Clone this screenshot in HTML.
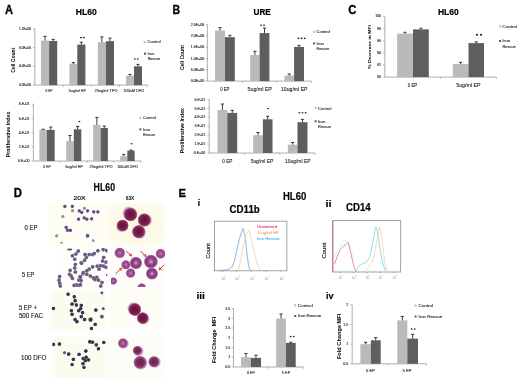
<!DOCTYPE html><html><head><meta charset="utf-8"><style>html,body{margin:0;padding:0;background:#fff;width:520px;height:378px;overflow:hidden}svg{display:block;will-change:transform}text{font-family:"Liberation Sans",sans-serif}</style></head><body>
<svg width="520" height="378" viewBox="0 0 520 378">
<rect width="520" height="378" fill="#fff"/>
<text x="5.0" y="13.6" font-size="12" font-weight="bold" textLength="8.0" lengthAdjust="spacingAndGlyphs" stroke="#000" stroke-width="0.3">A</text>
<text x="172.4" y="14.4" font-size="12" font-weight="bold" textLength="7.6" lengthAdjust="spacingAndGlyphs" stroke="#000" stroke-width="0.3">B</text>
<text x="348.3" y="13.6" font-size="12" font-weight="bold" textLength="8.2" lengthAdjust="spacingAndGlyphs" stroke="#000" stroke-width="0.3">C</text>
<text x="13.7" y="197.0" font-size="12" font-weight="bold" textLength="8.2" lengthAdjust="spacingAndGlyphs" stroke="#000" stroke-width="0.3">D</text>
<text x="178.6" y="197.0" font-size="11.6" font-weight="bold" textLength="7.5" lengthAdjust="spacingAndGlyphs" stroke="#000" stroke-width="0.3">E</text>
<text x="75.8" y="14.8" font-size="9.4" font-weight="bold" textLength="21.0" lengthAdjust="spacingAndGlyphs" stroke="#000" stroke-width="0.2">HL60</text>
<text x="253.6" y="14.8" font-size="9.4" font-weight="bold" textLength="17.2" lengthAdjust="spacingAndGlyphs" stroke="#000" stroke-width="0.2">URE</text>
<text x="437.9" y="14.8" font-size="9.4" font-weight="bold" textLength="20.8" lengthAdjust="spacingAndGlyphs" stroke="#000" stroke-width="0.2">HL60</text>
<text x="93.6" y="191.4" font-size="10" font-weight="bold" textLength="21.4" lengthAdjust="spacingAndGlyphs" stroke="#000" stroke-width="0.15">HL60</text>
<text x="282.9" y="200.4" font-size="10.4" font-weight="bold" textLength="23.4" lengthAdjust="spacingAndGlyphs" stroke="#000" stroke-width="0.15">HL60</text>
<path d="M34.8 28.5V85.1H147.7" stroke="#9a9a9a" stroke-width="0.8" fill="none"/>
<path d="M33.0 28.8H34.8" stroke="#9a9a9a" stroke-width="0.7"/>
<path d="M33.0 47.5H34.8" stroke="#9a9a9a" stroke-width="0.7"/>
<path d="M33.0 66.2H34.8" stroke="#9a9a9a" stroke-width="0.7"/>
<path d="M33.0 85.0H34.8" stroke="#9a9a9a" stroke-width="0.7"/>
<path d="M63.1 85.1V86.89999999999999" stroke="#9a9a9a" stroke-width="0.7"/>
<path d="M91.3 85.1V86.89999999999999" stroke="#9a9a9a" stroke-width="0.7"/>
<path d="M119.4 85.1V86.89999999999999" stroke="#9a9a9a" stroke-width="0.7"/>
<path d="M147.7 85.1V86.89999999999999" stroke="#9a9a9a" stroke-width="0.7"/>
<text x="31.0" y="29.92" font-size="3.2" text-anchor="end" fill="#262626" stroke="#262626" stroke-width="0.12">1.2E+06</text>
<text x="31.0" y="48.62" font-size="3.2" text-anchor="end" fill="#262626" stroke="#262626" stroke-width="0.12">8.0E+05</text>
<text x="31.0" y="67.32000000000001" font-size="3.2" text-anchor="end" fill="#262626" stroke="#262626" stroke-width="0.12">4.0E+05</text>
<text x="31.0" y="86.12" font-size="3.2" text-anchor="end" fill="#262626" stroke="#262626" stroke-width="0.12">0.0E+00</text>
<text x="49.0" y="92.2" font-size="3.6" text-anchor="middle" textLength="7.2" lengthAdjust="spacingAndGlyphs" fill="#262626" stroke="#262626" stroke-width="0.1">0 EP</text>
<text x="77.4" y="92.2" font-size="3.6" text-anchor="middle" textLength="17.2" lengthAdjust="spacingAndGlyphs" fill="#262626" stroke="#262626" stroke-width="0.1">5ug/ml EP</text>
<text x="106.0" y="92.2" font-size="3.6" text-anchor="middle" textLength="23" lengthAdjust="spacingAndGlyphs" fill="#262626" stroke="#262626" stroke-width="0.1">25ng/ml TPO</text>
<text x="133.8" y="92.2" font-size="3.6" text-anchor="middle" textLength="20.8" lengthAdjust="spacingAndGlyphs" fill="#262626" stroke="#262626" stroke-width="0.1">100uM DFO</text>
<rect x="41.0" y="40.6" width="8.10" height="44.50" fill="#bababa"/>
<path d="M45.05 40.6V36.3M43.45 36.3H46.65" stroke="#262626" stroke-width="0.9" fill="none"/>
<rect x="49.1" y="41.0" width="8.10" height="44.10" fill="#5e5e5e"/>
<path d="M53.150000000000006 41.0V39.4M51.55 39.4H54.75" stroke="#262626" stroke-width="0.9" fill="none"/>
<rect x="69.4" y="63.8" width="7.90" height="21.30" fill="#bababa"/>
<path d="M73.35 63.8V62.6M71.75 62.6H74.95" stroke="#262626" stroke-width="0.9" fill="none"/>
<rect x="77.3" y="44.6" width="8.10" height="40.50" fill="#5e5e5e"/>
<path d="M81.35 44.6V42.2M79.75 42.2H82.95" stroke="#262626" stroke-width="0.9" fill="none"/>
<rect x="97.8" y="42.2" width="8.10" height="42.90" fill="#bababa"/>
<path d="M101.85 42.2V36.9M100.25 36.9H103.45" stroke="#262626" stroke-width="0.9" fill="none"/>
<rect x="105.9" y="41.2" width="8.10" height="43.90" fill="#5e5e5e"/>
<path d="M109.95 41.2V38.1M108.35 38.1H111.55" stroke="#262626" stroke-width="0.9" fill="none"/>
<rect x="126.0" y="75.6" width="8.00" height="9.50" fill="#bababa"/>
<path d="M130.0 75.6V74.4M128.40 74.4H131.60" stroke="#262626" stroke-width="0.9" fill="none"/>
<rect x="134.0" y="66.3" width="8.00" height="18.80" fill="#5e5e5e"/>
<path d="M138.0 66.3V64.4M136.40 64.4H139.60" stroke="#262626" stroke-width="0.9" fill="none"/>
<ellipse cx="80.90" cy="37.6" rx="0.95" ry="0.81" fill="#222"/>
<ellipse cx="83.80" cy="37.6" rx="0.95" ry="0.81" fill="#222"/>
<ellipse cx="134.85" cy="59.0" rx="0.95" ry="0.81" fill="#222"/>
<ellipse cx="137.75" cy="59.0" rx="0.95" ry="0.81" fill="#222"/>
<rect x="143.60" y="41.10" width="2" height="2" fill="#bababa"/>
<text x="147.6" y="43.4" font-size="3.8" textLength="13.1" lengthAdjust="spacingAndGlyphs" fill="#262626" stroke="#262626" stroke-width="0.1">Control</text>
<rect x="144.00" y="52.70" width="2" height="2" fill="#5e5e5e"/>
<text x="147.6" y="54.9" font-size="3.8" textLength="6.7" lengthAdjust="spacingAndGlyphs" fill="#262626" stroke="#262626" stroke-width="0.1">Iron</text>
<text x="147.7" y="60.1" font-size="3.8" textLength="12.3" lengthAdjust="spacingAndGlyphs" fill="#262626" stroke="#262626" stroke-width="0.1">Rescue</text>
<text x="15.5" y="60.2" font-size="4.8" font-weight="bold" text-anchor="middle" textLength="25.0" lengthAdjust="spacingAndGlyphs" transform="rotate(-90 15.5 60.2)">Cell Count</text>
<path d="M33.4 104.2V161.0H141.0" stroke="#9a9a9a" stroke-width="0.8" fill="none"/>
<path d="M31.599999999999998 104.2H33.4" stroke="#9a9a9a" stroke-width="0.7"/>
<path d="M31.599999999999998 118.4H33.4" stroke="#9a9a9a" stroke-width="0.7"/>
<path d="M31.599999999999998 132.6H33.4" stroke="#9a9a9a" stroke-width="0.7"/>
<path d="M31.599999999999998 146.6H33.4" stroke="#9a9a9a" stroke-width="0.7"/>
<path d="M31.599999999999998 160.9H33.4" stroke="#9a9a9a" stroke-width="0.7"/>
<path d="M60.3 161.0V162.8" stroke="#9a9a9a" stroke-width="0.7"/>
<path d="M87.1 161.0V162.8" stroke="#9a9a9a" stroke-width="0.7"/>
<path d="M113.8 161.0V162.8" stroke="#9a9a9a" stroke-width="0.7"/>
<path d="M141.0 161.0V162.8" stroke="#9a9a9a" stroke-width="0.7"/>
<text x="29.4" y="105.46000000000001" font-size="3.6" text-anchor="end" fill="#262626" stroke="#262626" stroke-width="0.12">8.E-01</text>
<text x="29.4" y="119.66000000000001" font-size="3.6" text-anchor="end" fill="#262626" stroke="#262626" stroke-width="0.12">6.E-01</text>
<text x="29.4" y="133.85999999999999" font-size="3.6" text-anchor="end" fill="#262626" stroke="#262626" stroke-width="0.12">4.E-01</text>
<text x="29.4" y="147.85999999999999" font-size="3.6" text-anchor="end" fill="#262626" stroke="#262626" stroke-width="0.12">2.E-01</text>
<text x="29.4" y="162.16" font-size="3.6" text-anchor="end" fill="#262626" stroke="#262626" stroke-width="0.12">0.E+00</text>
<text x="47.0" y="168.1" font-size="3.6" text-anchor="middle" textLength="7.3" lengthAdjust="spacingAndGlyphs" fill="#262626" stroke="#262626" stroke-width="0.1">0 EP</text>
<text x="74.0" y="168.1" font-size="3.6" text-anchor="middle" textLength="17.7" lengthAdjust="spacingAndGlyphs" fill="#262626" stroke="#262626" stroke-width="0.1">5ug/ml EP</text>
<text x="101.0" y="168.1" font-size="3.6" text-anchor="middle" textLength="23" lengthAdjust="spacingAndGlyphs" fill="#262626" stroke="#262626" stroke-width="0.1">25ng/ml TPO</text>
<text x="127.5" y="168.1" font-size="3.6" text-anchor="middle" textLength="20.7" lengthAdjust="spacingAndGlyphs" fill="#262626" stroke="#262626" stroke-width="0.1">100uM DFO</text>
<rect x="39.4" y="129.9" width="7.50" height="31.10" fill="#bababa"/>
<path d="M43.15 129.9V129.3M41.55 129.3H44.75" stroke="#262626" stroke-width="0.9" fill="none"/>
<rect x="46.9" y="129.9" width="7.80" height="31.10" fill="#5e5e5e"/>
<path d="M50.8 129.9V127.1M49.20 127.1H52.40" stroke="#262626" stroke-width="0.9" fill="none"/>
<rect x="66.2" y="141.1" width="7.60" height="19.90" fill="#bababa"/>
<path d="M70.0 141.1V135.5M68.40 135.5H71.60" stroke="#262626" stroke-width="0.9" fill="none"/>
<rect x="73.8" y="129.3" width="7.50" height="31.70" fill="#5e5e5e"/>
<path d="M77.55 129.3V126.5M75.95 126.5H79.15" stroke="#262626" stroke-width="0.9" fill="none"/>
<rect x="93.1" y="124.9" width="7.50" height="36.10" fill="#bababa"/>
<path d="M96.85 124.9V117.4M95.25 117.4H98.45" stroke="#262626" stroke-width="0.9" fill="none"/>
<rect x="100.6" y="128.0" width="7.30" height="33.00" fill="#5e5e5e"/>
<path d="M104.25 128.0V126.1M102.65 126.1H105.85" stroke="#262626" stroke-width="0.9" fill="none"/>
<rect x="120.2" y="156.2" width="7.10" height="4.80" fill="#bababa"/>
<path d="M123.75 156.2V154.4M122.15 154.4H125.35" stroke="#262626" stroke-width="0.9" fill="none"/>
<rect x="127.3" y="150.6" width="7.40" height="10.40" fill="#5e5e5e"/>
<path d="M131.0 150.6V150.0M129.40 150.0H132.60" stroke="#262626" stroke-width="0.9" fill="none"/>
<ellipse cx="79.40" cy="121.5" rx="0.95" ry="0.81" fill="#222"/>
<ellipse cx="131.50" cy="143.7" rx="0.95" ry="0.81" fill="#222"/>
<rect x="139.40" y="116.90" width="2" height="2" fill="#bababa"/>
<text x="143.1" y="119.2" font-size="3.5" textLength="12.7" lengthAdjust="spacingAndGlyphs" fill="#262626" stroke="#262626" stroke-width="0.1">Control</text>
<rect x="139.40" y="128.30" width="2" height="2" fill="#5e5e5e"/>
<text x="143.1" y="130.6" font-size="3.5" textLength="7.0" lengthAdjust="spacingAndGlyphs" fill="#262626" stroke="#262626" stroke-width="0.1">Iron</text>
<text x="143.0" y="135.8" font-size="3.5" textLength="12.0" lengthAdjust="spacingAndGlyphs" fill="#262626" stroke="#262626" stroke-width="0.1">Rescue</text>
<text x="9.9" y="134.4" font-size="4.7" font-weight="bold" text-anchor="middle" textLength="45.6" lengthAdjust="spacingAndGlyphs" transform="rotate(-90 9.9 134.4)">Proliferative Index</text>
<path d="M207.4 24.5V81.1H311.5" stroke="#9a9a9a" stroke-width="0.8" fill="none"/>
<path d="M205.6 24.6H207.4" stroke="#9a9a9a" stroke-width="0.7"/>
<path d="M205.6 35.9H207.4" stroke="#9a9a9a" stroke-width="0.7"/>
<path d="M205.6 47.2H207.4" stroke="#9a9a9a" stroke-width="0.7"/>
<path d="M205.6 58.5H207.4" stroke="#9a9a9a" stroke-width="0.7"/>
<path d="M205.6 69.8H207.4" stroke="#9a9a9a" stroke-width="0.7"/>
<path d="M205.6 81.1H207.4" stroke="#9a9a9a" stroke-width="0.7"/>
<path d="M242.1 81.1V82.89999999999999" stroke="#9a9a9a" stroke-width="0.7"/>
<path d="M276.8 81.1V82.89999999999999" stroke="#9a9a9a" stroke-width="0.7"/>
<path d="M311.5 81.1V82.89999999999999" stroke="#9a9a9a" stroke-width="0.7"/>
<text x="204.2" y="25.860000000000003" font-size="3.6" text-anchor="end" fill="#262626" stroke="#262626" stroke-width="0.12">2.5E+06</text>
<text x="204.2" y="37.16" font-size="3.6" text-anchor="end" fill="#262626" stroke="#262626" stroke-width="0.12">2.0E+06</text>
<text x="204.2" y="48.46" font-size="3.6" text-anchor="end" fill="#262626" stroke="#262626" stroke-width="0.12">1.5E+06</text>
<text x="204.2" y="59.76" font-size="3.6" text-anchor="end" fill="#262626" stroke="#262626" stroke-width="0.12">1.0E+06</text>
<text x="204.2" y="71.06" font-size="3.6" text-anchor="end" fill="#262626" stroke="#262626" stroke-width="0.12">5.0E+05</text>
<text x="204.2" y="82.36" font-size="3.6" text-anchor="end" fill="#262626" stroke="#262626" stroke-width="0.12">0.0E+00</text>
<text x="224.8" y="90.5" font-size="5.0" text-anchor="middle" textLength="9.1" lengthAdjust="spacingAndGlyphs" fill="#262626" stroke="#262626" stroke-width="0.1">0 EP</text>
<text x="259.7" y="90.5" font-size="5.0" text-anchor="middle" textLength="24.4" lengthAdjust="spacingAndGlyphs" fill="#262626" stroke="#262626" stroke-width="0.1">5ug/ml EP</text>
<text x="294.25" y="90.5" font-size="5.0" text-anchor="middle" textLength="26.5" lengthAdjust="spacingAndGlyphs" fill="#262626" stroke="#262626" stroke-width="0.1">10ug/ml EP</text>
<rect x="215.0" y="30.6" width="10.00" height="50.50" fill="#bababa"/>
<path d="M220.0 30.6V27.6M218.40 27.6H221.60" stroke="#262626" stroke-width="0.9" fill="none"/>
<rect x="225.0" y="37.2" width="9.80" height="43.90" fill="#5e5e5e"/>
<path d="M229.9 37.2V35.3M228.30 35.3H231.50" stroke="#262626" stroke-width="0.9" fill="none"/>
<rect x="250.2" y="55.0" width="9.40" height="26.10" fill="#bababa"/>
<path d="M254.9 55.0V51.3M253.30 51.3H256.50" stroke="#262626" stroke-width="0.9" fill="none"/>
<rect x="259.6" y="33.1" width="9.80" height="48.00" fill="#5e5e5e"/>
<path d="M264.5 33.1V28.1M262.90 28.1H266.10" stroke="#262626" stroke-width="0.9" fill="none"/>
<rect x="284.4" y="75.6" width="9.70" height="5.50" fill="#bababa"/>
<path d="M289.25 75.6V74.0M287.65 74.0H290.85" stroke="#262626" stroke-width="0.9" fill="none"/>
<rect x="294.1" y="46.9" width="9.90" height="34.20" fill="#5e5e5e"/>
<path d="M299.05 46.9V45.4M297.45 45.4H300.65" stroke="#262626" stroke-width="0.9" fill="none"/>
<ellipse cx="260.95" cy="25.3" rx="0.95" ry="0.81" fill="#222"/>
<ellipse cx="264.05" cy="25.3" rx="0.95" ry="0.81" fill="#222"/>
<ellipse cx="298.40" cy="38.4" rx="0.95" ry="0.81" fill="#222"/>
<ellipse cx="301.50" cy="38.4" rx="0.95" ry="0.81" fill="#222"/>
<ellipse cx="304.60" cy="38.4" rx="0.95" ry="0.81" fill="#222"/>
<rect x="313.00" y="30.90" width="2" height="2" fill="#bababa"/>
<text x="316.6" y="33.1" font-size="3.7" textLength="13.2" lengthAdjust="spacingAndGlyphs" fill="#262626" stroke="#262626" stroke-width="0.1">Control</text>
<rect x="313.00" y="42.40" width="2" height="2" fill="#5e5e5e"/>
<text x="316.6" y="44.6" font-size="3.7" textLength="7.3" lengthAdjust="spacingAndGlyphs" fill="#262626" stroke="#262626" stroke-width="0.1">Iron</text>
<text x="316.6" y="49.9" font-size="3.7" textLength="12.4" lengthAdjust="spacingAndGlyphs" fill="#262626" stroke="#262626" stroke-width="0.1">Rescue</text>
<text x="183.7" y="57.6" font-size="4.8" font-weight="bold" text-anchor="middle" textLength="25.0" lengthAdjust="spacingAndGlyphs" transform="rotate(-90 183.7 57.6)">Cell Count</text>
<path d="M209.2 99.3V153.0H315.1" stroke="#9a9a9a" stroke-width="0.8" fill="none"/>
<path d="M207.39999999999998 99.3H209.2" stroke="#9a9a9a" stroke-width="0.7"/>
<path d="M207.39999999999998 108.3H209.2" stroke="#9a9a9a" stroke-width="0.7"/>
<path d="M207.39999999999998 117.2H209.2" stroke="#9a9a9a" stroke-width="0.7"/>
<path d="M207.39999999999998 126.2H209.2" stroke="#9a9a9a" stroke-width="0.7"/>
<path d="M207.39999999999998 135.1H209.2" stroke="#9a9a9a" stroke-width="0.7"/>
<path d="M207.39999999999998 144.1H209.2" stroke="#9a9a9a" stroke-width="0.7"/>
<path d="M207.39999999999998 153.0H209.2" stroke="#9a9a9a" stroke-width="0.7"/>
<path d="M244.5 153.0V154.8" stroke="#9a9a9a" stroke-width="0.7"/>
<path d="M279.8 153.0V154.8" stroke="#9a9a9a" stroke-width="0.7"/>
<path d="M315.1 153.0V154.8" stroke="#9a9a9a" stroke-width="0.7"/>
<text x="205.2" y="100.56" font-size="3.6" text-anchor="end" fill="#262626" stroke="#262626" stroke-width="0.12">6.E-01</text>
<text x="205.2" y="109.56" font-size="3.6" text-anchor="end" fill="#262626" stroke="#262626" stroke-width="0.12">5.E-01</text>
<text x="205.2" y="118.46000000000001" font-size="3.6" text-anchor="end" fill="#262626" stroke="#262626" stroke-width="0.12">4.E-01</text>
<text x="205.2" y="127.46000000000001" font-size="3.6" text-anchor="end" fill="#262626" stroke="#262626" stroke-width="0.12">3.E-01</text>
<text x="205.2" y="136.35999999999999" font-size="3.6" text-anchor="end" fill="#262626" stroke="#262626" stroke-width="0.12">2.E-01</text>
<text x="205.2" y="145.35999999999999" font-size="3.6" text-anchor="end" fill="#262626" stroke="#262626" stroke-width="0.12">1.E-01</text>
<text x="205.2" y="154.26" font-size="3.6" text-anchor="end" fill="#262626" stroke="#262626" stroke-width="0.12">0.E+00</text>
<text x="227.4" y="162.6" font-size="5.0" text-anchor="middle" textLength="10.2" lengthAdjust="spacingAndGlyphs" fill="#262626" stroke="#262626" stroke-width="0.1">0 EP</text>
<text x="262.0" y="162.6" font-size="5.0" text-anchor="middle" textLength="22.7" lengthAdjust="spacingAndGlyphs" fill="#262626" stroke="#262626" stroke-width="0.1">5ug/ml EP</text>
<text x="297.8" y="162.6" font-size="5.0" text-anchor="middle" textLength="25.7" lengthAdjust="spacingAndGlyphs" fill="#262626" stroke="#262626" stroke-width="0.1">10ug/ml EP</text>
<rect x="217.5" y="110.0" width="9.80" height="43.00" fill="#bababa"/>
<path d="M222.4 110.0V104.0M220.80 104.0H224.00" stroke="#262626" stroke-width="0.9" fill="none"/>
<rect x="227.3" y="112.9" width="9.90" height="40.10" fill="#5e5e5e"/>
<path d="M232.25 112.9V110.3M230.65 110.3H233.85" stroke="#262626" stroke-width="0.9" fill="none"/>
<rect x="253.1" y="135.2" width="9.80" height="17.80" fill="#bababa"/>
<path d="M258.0 135.2V132.5M256.40 132.5H259.60" stroke="#262626" stroke-width="0.9" fill="none"/>
<rect x="262.9" y="119.3" width="9.60" height="33.70" fill="#5e5e5e"/>
<path d="M267.7 119.3V116.3M266.10 116.3H269.30" stroke="#262626" stroke-width="0.9" fill="none"/>
<rect x="287.8" y="144.7" width="9.70" height="8.30" fill="#bababa"/>
<path d="M292.65 144.7V142.5M291.05 142.5H294.25" stroke="#262626" stroke-width="0.9" fill="none"/>
<rect x="297.5" y="122.2" width="10.00" height="30.80" fill="#5e5e5e"/>
<path d="M302.5 122.2V119.4M300.90 119.4H304.10" stroke="#262626" stroke-width="0.9" fill="none"/>
<ellipse cx="267.90" cy="108.5" rx="0.95" ry="0.81" fill="#222"/>
<ellipse cx="299.40" cy="112.8" rx="0.95" ry="0.81" fill="#222"/>
<ellipse cx="302.50" cy="112.8" rx="0.95" ry="0.81" fill="#222"/>
<ellipse cx="305.60" cy="112.8" rx="0.95" ry="0.81" fill="#222"/>
<rect x="314.60" y="106.90" width="2" height="2" fill="#bababa"/>
<text x="317.8" y="109.5" font-size="3.8" textLength="13.6" lengthAdjust="spacingAndGlyphs" fill="#262626" stroke="#262626" stroke-width="0.1">Control</text>
<rect x="314.60" y="120.30" width="2" height="2" fill="#5e5e5e"/>
<text x="317.8" y="122.7" font-size="3.8" textLength="7.7" lengthAdjust="spacingAndGlyphs" fill="#262626" stroke="#262626" stroke-width="0.1">Iron</text>
<text x="317.9" y="128.0" font-size="3.8" textLength="12.9" lengthAdjust="spacingAndGlyphs" fill="#262626" stroke="#262626" stroke-width="0.1">Rescue</text>
<text x="183.6" y="130.6" font-size="4.7" font-weight="bold" text-anchor="middle" textLength="45.2" lengthAdjust="spacingAndGlyphs" transform="rotate(-90 183.6 130.6)">Proliferative Index</text>
<path d="M384.8 16.3V77.1H496.3" stroke="#9a9a9a" stroke-width="0.8" fill="none"/>
<path d="M383.0 16.3H384.8" stroke="#9a9a9a" stroke-width="0.7"/>
<path d="M383.0 28.5H384.8" stroke="#9a9a9a" stroke-width="0.7"/>
<path d="M383.0 40.6H384.8" stroke="#9a9a9a" stroke-width="0.7"/>
<path d="M383.0 52.7H384.8" stroke="#9a9a9a" stroke-width="0.7"/>
<path d="M383.0 64.9H384.8" stroke="#9a9a9a" stroke-width="0.7"/>
<path d="M383.0 77.0H384.8" stroke="#9a9a9a" stroke-width="0.7"/>
<path d="M440.6 77.1V78.89999999999999" stroke="#9a9a9a" stroke-width="0.7"/>
<path d="M496.3 77.1V78.89999999999999" stroke="#9a9a9a" stroke-width="0.7"/>
<text x="380.8" y="17.490000000000002" font-size="3.4" text-anchor="end" fill="#262626" stroke="#262626" stroke-width="0.12">100</text>
<text x="380.8" y="29.69" font-size="3.4" text-anchor="end" fill="#262626" stroke="#262626" stroke-width="0.12">98</text>
<text x="380.8" y="41.79" font-size="3.4" text-anchor="end" fill="#262626" stroke="#262626" stroke-width="0.12">96</text>
<text x="380.8" y="53.89" font-size="3.4" text-anchor="end" fill="#262626" stroke="#262626" stroke-width="0.12">94</text>
<text x="380.8" y="66.09" font-size="3.4" text-anchor="end" fill="#262626" stroke="#262626" stroke-width="0.12">92</text>
<text x="380.8" y="78.19" font-size="3.4" text-anchor="end" fill="#262626" stroke="#262626" stroke-width="0.12">90</text>
<text x="412.5" y="86.8" font-size="5.0" text-anchor="middle" textLength="9.5" lengthAdjust="spacingAndGlyphs" fill="#262626" stroke="#262626" stroke-width="0.1">0 EP</text>
<text x="468.4" y="86.8" font-size="5.0" text-anchor="middle" textLength="24.3" lengthAdjust="spacingAndGlyphs" fill="#262626" stroke="#262626" stroke-width="0.1">5ug/ml EP</text>
<rect x="397.1" y="33.6" width="15.90" height="43.50" fill="#bababa"/>
<path d="M405.05 33.6V32.3M403.45 32.3H406.65" stroke="#262626" stroke-width="0.9" fill="none"/>
<rect x="413.0" y="29.4" width="15.80" height="47.70" fill="#5e5e5e"/>
<path d="M420.9 29.4V28.2M419.30 28.2H422.50" stroke="#262626" stroke-width="0.9" fill="none"/>
<rect x="452.8" y="64.1" width="15.70" height="13.00" fill="#bababa"/>
<path d="M460.65 64.1V62.3M459.05 62.3H462.25" stroke="#262626" stroke-width="0.9" fill="none"/>
<rect x="468.5" y="43.1" width="15.50" height="34.00" fill="#5e5e5e"/>
<path d="M476.25 43.1V41.9M474.65 41.9H477.85" stroke="#262626" stroke-width="0.9" fill="none"/>
<ellipse cx="476.95" cy="34.8" rx="1.15" ry="0.98" fill="#222"/>
<ellipse cx="481.05" cy="34.8" rx="1.15" ry="0.98" fill="#222"/>
<rect x="499.00" y="25.50" width="2" height="2" fill="#bababa"/>
<text x="502.3" y="28.0" font-size="4.0" textLength="14.8" lengthAdjust="spacingAndGlyphs" fill="#262626" stroke="#262626" stroke-width="0.1">Control</text>
<rect x="499.00" y="40.00" width="2" height="2" fill="#5e5e5e"/>
<text x="502.3" y="42.4" font-size="4.0" textLength="8.0" lengthAdjust="spacingAndGlyphs" fill="#262626" stroke="#262626" stroke-width="0.1">Iron</text>
<text x="502.5" y="47.8" font-size="4.0" textLength="13.3" lengthAdjust="spacingAndGlyphs" fill="#262626" stroke="#262626" stroke-width="0.1">Rescue</text>
<text x="371.4" y="47.0" font-size="4.4" font-weight="bold" text-anchor="middle" textLength="43.7" lengthAdjust="spacingAndGlyphs" transform="rotate(-90 371.4 47.0)">% Decrease in MFI</text>
<path d="M233.5 308.5V367.0H303.5" stroke="#9a9a9a" stroke-width="0.8" fill="none"/>
<path d="M231.7 308.5H233.5" stroke="#9a9a9a" stroke-width="0.7"/>
<path d="M231.7 318.3H233.5" stroke="#9a9a9a" stroke-width="0.7"/>
<path d="M231.7 328.0H233.5" stroke="#9a9a9a" stroke-width="0.7"/>
<path d="M231.7 337.7H233.5" stroke="#9a9a9a" stroke-width="0.7"/>
<path d="M231.7 347.5H233.5" stroke="#9a9a9a" stroke-width="0.7"/>
<path d="M231.7 357.2H233.5" stroke="#9a9a9a" stroke-width="0.7"/>
<path d="M231.7 367.0H233.5" stroke="#9a9a9a" stroke-width="0.7"/>
<path d="M268.5 367.0V368.8" stroke="#9a9a9a" stroke-width="0.7"/>
<path d="M303.5 367.0V368.8" stroke="#9a9a9a" stroke-width="0.7"/>
<text x="230.2" y="309.76" font-size="3.6" text-anchor="end" fill="#262626" stroke="#262626" stroke-width="0.12">3.5</text>
<text x="230.2" y="319.56" font-size="3.6" text-anchor="end" fill="#262626" stroke="#262626" stroke-width="0.12">3</text>
<text x="230.2" y="329.26" font-size="3.6" text-anchor="end" fill="#262626" stroke="#262626" stroke-width="0.12">2.5</text>
<text x="230.2" y="338.96" font-size="3.6" text-anchor="end" fill="#262626" stroke="#262626" stroke-width="0.12">2</text>
<text x="230.2" y="348.76" font-size="3.6" text-anchor="end" fill="#262626" stroke="#262626" stroke-width="0.12">1.5</text>
<text x="230.2" y="358.46" font-size="3.6" text-anchor="end" fill="#262626" stroke="#262626" stroke-width="0.12">1</text>
<text x="230.2" y="368.26" font-size="3.6" text-anchor="end" fill="#262626" stroke="#262626" stroke-width="0.12">0.5</text>
<text x="251.0" y="374.4" font-size="3.8" text-anchor="middle" textLength="8.2" lengthAdjust="spacingAndGlyphs" fill="#262626" stroke="#262626" stroke-width="0.1">0 EP</text>
<text x="286.0" y="374.4" font-size="3.8" text-anchor="middle" textLength="8.5" lengthAdjust="spacingAndGlyphs" fill="#262626" stroke="#262626" stroke-width="0.1">5 EP</text>
<rect x="241.0" y="357.3" width="9.90" height="9.70" fill="#bababa"/>
<path d="M245.95 357.3V353.5M244.35 353.5H247.55" stroke="#262626" stroke-width="0.9" fill="none"/>
<rect x="250.9" y="357.9" width="10.10" height="9.10" fill="#5e5e5e"/>
<path d="M255.95 357.9V355.2M254.35 355.2H257.55" stroke="#262626" stroke-width="0.9" fill="none"/>
<rect x="276.2" y="318.6" width="9.70" height="48.40" fill="#bababa"/>
<path d="M281.04999999999995 318.6V314.0M279.45 314.0H282.65" stroke="#262626" stroke-width="0.9" fill="none"/>
<rect x="285.9" y="342.9" width="9.80" height="24.10" fill="#5e5e5e"/>
<path d="M290.79999999999995 342.9V342.3M289.20 342.3H292.40" stroke="#262626" stroke-width="0.9" fill="none"/>
<ellipse cx="290.65" cy="336.5" rx="0.95" ry="0.81" fill="#222"/>
<ellipse cx="293.75" cy="336.5" rx="0.95" ry="0.81" fill="#222"/>
<rect x="294.20" y="304.20" width="2" height="2" fill="#bababa"/>
<text x="297.8" y="306.5" font-size="3.7" textLength="14.9" lengthAdjust="spacingAndGlyphs" fill="#262626" stroke="#262626" stroke-width="0.1">Control</text>
<rect x="294.20" y="315.00" width="2" height="2" fill="#5e5e5e"/>
<text x="297.8" y="317.3" font-size="3.7" textLength="23.5" lengthAdjust="spacingAndGlyphs" fill="#262626" stroke="#262626" stroke-width="0.1">Iron Rescue</text>
<text x="216.2" y="339.9" font-size="5.0" font-weight="bold" text-anchor="middle" textLength="46.3" lengthAdjust="spacingAndGlyphs" transform="rotate(-90 216.2 339.9)">Fold Change&#160;&#160;MFI</text>
<path d="M352.2 304.8V363.8H426.5" stroke="#9a9a9a" stroke-width="0.8" fill="none"/>
<path d="M350.4 304.8H352.2" stroke="#9a9a9a" stroke-width="0.7"/>
<path d="M350.4 324.5H352.2" stroke="#9a9a9a" stroke-width="0.7"/>
<path d="M350.4 344.2H352.2" stroke="#9a9a9a" stroke-width="0.7"/>
<path d="M350.4 363.8H352.2" stroke="#9a9a9a" stroke-width="0.7"/>
<path d="M388.1 363.8V365.6" stroke="#9a9a9a" stroke-width="0.7"/>
<path d="M426.5 363.8V365.6" stroke="#9a9a9a" stroke-width="0.7"/>
<text x="348.3" y="306.06" font-size="3.6" text-anchor="end" fill="#262626" stroke="#262626" stroke-width="0.12">2</text>
<text x="348.3" y="325.76" font-size="3.6" text-anchor="end" fill="#262626" stroke="#262626" stroke-width="0.12">1.5</text>
<text x="348.3" y="345.46" font-size="3.6" text-anchor="end" fill="#262626" stroke="#262626" stroke-width="0.12">1</text>
<text x="348.3" y="365.06" font-size="3.6" text-anchor="end" fill="#262626" stroke="#262626" stroke-width="0.12">0.5</text>
<text x="370.5" y="371.9" font-size="3.8" text-anchor="middle" textLength="9.0" lengthAdjust="spacingAndGlyphs" fill="#262626" stroke="#262626" stroke-width="0.1">0 EP</text>
<text x="407.0" y="371.9" font-size="3.8" text-anchor="middle" textLength="9.2" lengthAdjust="spacingAndGlyphs" fill="#262626" stroke="#262626" stroke-width="0.1">5 EP</text>
<rect x="360.4" y="344.2" width="10.40" height="19.60" fill="#bababa"/>
<path d="M365.6 344.2V342.3M364.00 342.3H367.20" stroke="#262626" stroke-width="0.9" fill="none"/>
<rect x="370.8" y="340.3" width="9.90" height="23.50" fill="#5e5e5e"/>
<path d="M375.75 340.3V337.6M374.15 337.6H377.35" stroke="#262626" stroke-width="0.9" fill="none"/>
<rect x="397.3" y="320.4" width="10.00" height="43.40" fill="#bababa"/>
<path d="M402.3 320.4V316.4M400.70 316.4H403.90" stroke="#262626" stroke-width="0.9" fill="none"/>
<rect x="407.3" y="338.6" width="10.70" height="25.20" fill="#5e5e5e"/>
<path d="M412.65 338.6V334.3M411.05 334.3H414.25" stroke="#262626" stroke-width="0.9" fill="none"/>
<ellipse cx="411.65" cy="329.0" rx="0.95" ry="0.81" fill="#222"/>
<ellipse cx="414.75" cy="329.0" rx="0.95" ry="0.81" fill="#222"/>
<rect x="414.60" y="304.60" width="2" height="2" fill="#bababa"/>
<text x="418.5" y="306.9" font-size="3.7" textLength="14.6" lengthAdjust="spacingAndGlyphs" fill="#262626" stroke="#262626" stroke-width="0.1">Control</text>
<rect x="414.60" y="315.50" width="2" height="2" fill="#5e5e5e"/>
<text x="418.5" y="317.8" font-size="3.7" textLength="23.6" lengthAdjust="spacingAndGlyphs" fill="#262626" stroke="#262626" stroke-width="0.1">Iron Rescue</text>
<text x="340.7" y="336.4" font-size="5.0" font-weight="bold" text-anchor="middle" textLength="45.4" lengthAdjust="spacingAndGlyphs" transform="rotate(-90 340.7 336.4)">Fold Change MFI</text>
<text x="197.8" y="206.0" font-size="9.6" font-weight="bold" textLength="2.4" lengthAdjust="spacingAndGlyphs" stroke="#000" stroke-width="0.15">i</text>
<text x="325.5" y="207.2" font-size="9.6" font-weight="bold" textLength="6.2" lengthAdjust="spacingAndGlyphs" stroke="#000" stroke-width="0.15">ii</text>
<text x="196.4" y="298.9" font-size="9.6" font-weight="bold" textLength="8.6" lengthAdjust="spacingAndGlyphs" stroke="#000" stroke-width="0.15">iii</text>
<text x="325.9" y="298.9" font-size="9.6" font-weight="bold" textLength="7.6" lengthAdjust="spacingAndGlyphs" stroke="#000" stroke-width="0.15">iv</text>
<text x="229.6" y="213.2" font-size="10.4" font-weight="bold" textLength="30.2" lengthAdjust="spacingAndGlyphs" stroke="#000" stroke-width="0.2">CD11b</text>
<text x="346.0" y="211.4" font-size="10.4" font-weight="bold" textLength="24.6" lengthAdjust="spacingAndGlyphs" stroke="#000" stroke-width="0.2">CD14</text>
<rect x="214.4" y="221.2" width="72.5" height="49.6" fill="none" stroke="#8a8a8a" stroke-width="0.8"/>
<rect x="332.8" y="220.6" width="67.9" height="51.4" fill="none" stroke="#8a8a8a" stroke-width="0.8"/>
<path d="M332.8 221V272" stroke="#d06070" stroke-width="0.9"/>
<text x="209.9" y="250.8" font-size="5.6" text-anchor="middle" textLength="15.6" lengthAdjust="spacingAndGlyphs" fill="#222" transform="rotate(-90 209.9 250.8)" stroke="#222" stroke-width="0.15">Count</text>
<text x="325.9" y="250.6" font-size="5.6" text-anchor="middle" textLength="16.0" lengthAdjust="spacingAndGlyphs" fill="#222" transform="rotate(-90 325.9 250.6)" stroke="#222" stroke-width="0.15">Count</text>
<text x="221.4" y="279.8" font-size="3.2" fill="#8a8a8a">10<tspan dy="-2.6" font-size="2.4">1</tspan></text>
<text x="234.9" y="279.8" font-size="3.2" fill="#8a8a8a">10<tspan dy="-2.6" font-size="2.4">2</tspan></text>
<text x="249.9" y="279.8" font-size="3.2" fill="#8a8a8a">10<tspan dy="-2.6" font-size="2.4">3</tspan></text>
<text x="264.7" y="279.8" font-size="3.2" fill="#8a8a8a">10<tspan dy="-2.6" font-size="2.4">4</tspan></text>
<text x="279.2" y="279.8" font-size="3.2" fill="#8a8a8a">10<tspan dy="-2.6" font-size="2.4">5</tspan></text>
<text x="338.59999999999997" y="278.6" font-size="3.0" fill="#8a8a8a">10<tspan dy="-2.2" font-size="2.4">1</tspan></text>
<text x="352.09999999999997" y="278.6" font-size="3.0" fill="#8a8a8a">10<tspan dy="-2.2" font-size="2.4">2</tspan></text>
<text x="365.4" y="278.6" font-size="3.0" fill="#8a8a8a">10<tspan dy="-2.2" font-size="2.4">3</tspan></text>
<text x="378.79999999999995" y="278.6" font-size="3.0" fill="#8a8a8a">10<tspan dy="-2.2" font-size="2.4">4</tspan></text>
<text x="392.29999999999995" y="278.6" font-size="3.0" fill="#8a8a8a">10<tspan dy="-2.2" font-size="2.4">5</tspan></text>
<path d="M223 270.8v1.3" stroke="#8a8a8a" stroke-width="0.6"/>
<path d="M236.5 270.8v1.3" stroke="#8a8a8a" stroke-width="0.6"/>
<path d="M251.5 270.8v1.3" stroke="#8a8a8a" stroke-width="0.6"/>
<path d="M266.3 270.8v1.3" stroke="#8a8a8a" stroke-width="0.6"/>
<path d="M280.8 270.8v1.3" stroke="#8a8a8a" stroke-width="0.6"/>
<path d="M340.2 272v1.3" stroke="#8a8a8a" stroke-width="0.6"/>
<path d="M353.7 272v1.3" stroke="#8a8a8a" stroke-width="0.6"/>
<path d="M367 272v1.3" stroke="#8a8a8a" stroke-width="0.6"/>
<path d="M380.4 272v1.3" stroke="#8a8a8a" stroke-width="0.6"/>
<path d="M393.9 272v1.3" stroke="#8a8a8a" stroke-width="0.6"/>
<text x="256.7" y="228.0" font-size="4.0" textLength="20.5" lengthAdjust="spacingAndGlyphs" fill="#e0405e" stroke="#e0405e" stroke-width="0.1">Unstained</text>
<text x="257.7" y="234.3" font-size="4.0" textLength="21.0" lengthAdjust="spacingAndGlyphs" fill="#e6a472" stroke="#e6a472" stroke-width="0.1">5 ug/ml EP</text>
<text x="256.7" y="240.0" font-size="4.0" textLength="23.0" lengthAdjust="spacingAndGlyphs" fill="#4cb8e2" stroke="#4cb8e2" stroke-width="0.1">Iron Rescue</text>
<path d="M219 270.3 C225 270.2 229 269.8 231 267.8 C233.5 265.5 235 259 236.5 251 C238.5 241 241.2 232 243.1 228.2 C244.6 233 245.6 240 246.5 250.6 C247.6 260 248.6 266 249.8 270.3" fill="none" stroke="#6c8cc0" stroke-width="0.65"/>
<path d="M232 268 C234 265 235.5 259 237 251 C239 241 241.4 233 243.5 229.5 C245 234 246 241 247 251 C248 260 249 266 250.3 270.3" fill="none" stroke="#8cd8f0" stroke-width="0.45" opacity="0.8"/>
<path d="M238.2 270.3 C239.5 266 240.5 262 241.5 256 C242.8 247 245 236 248.7 230.6 C251 236 252 243 253.4 248.5 C255 256 257 264 260 270.3" fill="none" stroke="#eec894" stroke-width="0.7"/>
<path d="M334.5 258 C337 250 340 244 343 241.5 C345 240 347 240.5 348.5 242 C350 245 351.5 252 353 258" fill="none" stroke="#bfe8f4" stroke-width="0.6"/>
<path d="M334.6 264 C336 260 339 250 342 247.4 C344 245.8 346 245 348.1 242.4 C350 250 352 258 353.1 263.1 C354 267 355 270 356 271.5" fill="none" stroke="#e06070" stroke-width="0.7"/>
<path d="M356 271 C358 267 359 265 360.6 264.6 C363 263.5 365 263 366.1 262.2 C368 260 369 258 369.8 256.7 C371.5 250 372.5 243 373.5 239 C374.5 233 375.2 229 375.9 227 C377 229 377.6 233 378.5 237.2 C380 248 381 255 381.9 259.4 C383 265 384.5 269 385.6 271" fill="none" stroke="#5ccbe6" stroke-width="0.7"/>
<path d="M365.2 271 C368 268 371 264 372.6 261.3 C374.5 254 376 245 377.2 239 C378 234 379 229 379.6 227 C380.5 230 381 234 381.9 239 C383 247 384 256 384.6 261.3 C385.5 266 386.5 269 387.4 271.5" fill="none" stroke="#f2c890" stroke-width="0.7"/>
<text x="73.6" y="200.2" font-size="6.0" textLength="11.9" lengthAdjust="spacingAndGlyphs" fill="#111" stroke="#111" stroke-width="0.2">20X</text>
<text x="125.8" y="200.2" font-size="6.0" textLength="8.5" lengthAdjust="spacingAndGlyphs" fill="#111" stroke="#111" stroke-width="0.2">63X</text>
<text x="24.4" y="230.3" font-size="6.3" textLength="13.0" lengthAdjust="spacingAndGlyphs" fill="#1a1a1a" stroke="#1a1a1a" stroke-width="0.12">0 EP</text>
<text x="22.0" y="277.0" font-size="6.3" textLength="12.4" lengthAdjust="spacingAndGlyphs" fill="#1a1a1a" stroke="#1a1a1a" stroke-width="0.12">5 EP</text>
<text x="18.9" y="309.6" font-size="6.3" textLength="18.0" lengthAdjust="spacingAndGlyphs" fill="#1a1a1a" stroke="#1a1a1a" stroke-width="0.12">5 EP +</text>
<text x="18.9" y="318.3" font-size="6.3" textLength="24.1" lengthAdjust="spacingAndGlyphs" fill="#1a1a1a" stroke="#1a1a1a" stroke-width="0.12">500 FAC</text>
<text x="21.0" y="359.9" font-size="6.3" textLength="25.4" lengthAdjust="spacingAndGlyphs" fill="#1a1a1a" stroke="#1a1a1a" stroke-width="0.12">100 DFO</text>
<defs>
<radialGradient id="c20" cx="0.45" cy="0.45" r="0.55">
<stop offset="0" stop-color="#5c4684"/><stop offset="0.55" stop-color="#675290"/><stop offset="0.85" stop-color="#9a8cb4" stop-opacity="0.8"/><stop offset="1" stop-color="#d0c8dc" stop-opacity="0"/></radialGradient>
<radialGradient id="c20b" cx="0.45" cy="0.45" r="0.55">
<stop offset="0" stop-color="#645478"/><stop offset="0.55" stop-color="#6e6084"/><stop offset="0.85" stop-color="#a096b0" stop-opacity="0.8"/><stop offset="1" stop-color="#d0c8dc" stop-opacity="0"/></radialGradient>
<radialGradient id="c20g" cx="0.5" cy="0.5" r="0.55">
<stop offset="0" stop-color="#8e8498"/><stop offset="0.7" stop-color="#a49cac"/><stop offset="1" stop-color="#d8d4dc" stop-opacity="0"/></radialGradient>
<radialGradient id="c20d" cx="0.45" cy="0.45" r="0.55">
<stop offset="0" stop-color="#3a2c44"/><stop offset="0.6" stop-color="#46384f"/><stop offset="0.85" stop-color="#7a6e84" stop-opacity="0.8"/><stop offset="1" stop-color="#c8c0cc" stop-opacity="0"/></radialGradient>
<radialGradient id="c63" cx="0.5" cy="0.5" r="0.5">
<stop offset="0" stop-color="#6c1038"/><stop offset="0.5" stop-color="#741a44"/><stop offset="0.78" stop-color="#842c5a"/><stop offset="0.92" stop-color="#b078a4" stop-opacity="0.85"/><stop offset="1" stop-color="#e8d4e4" stop-opacity="0"/></radialGradient>
<radialGradient id="halo" cx="0.5" cy="0.5" r="0.5">
<stop offset="0" stop-color="#b67aae"/><stop offset="0.75" stop-color="#c496c0"/><stop offset="1" stop-color="#ecdcec" stop-opacity="0"/></radialGradient>
<radialGradient id="c63p" cx="0.5" cy="0.5" r="0.5">
<stop offset="0" stop-color="#e69ac8"/><stop offset="0.2" stop-color="#c070a8"/><stop offset="0.45" stop-color="#8a4080"/><stop offset="0.75" stop-color="#844080"/><stop offset="0.88" stop-color="#ae86b6"/><stop offset="1" stop-color="#f0e4f0" stop-opacity="0"/></radialGradient>
<radialGradient id="c63r" cx="0.5" cy="0.5" r="0.5">
<stop offset="0" stop-color="#722050"/><stop offset="0.55" stop-color="#7a2c5e"/><stop offset="0.8" stop-color="#945088"/><stop offset="0.92" stop-color="#c09ac0" stop-opacity="0.85"/><stop offset="1" stop-color="#ecdcec" stop-opacity="0"/></radialGradient>
<radialGradient id="c63l" cx="0.5" cy="0.5" r="0.5">
<stop offset="0" stop-color="#c678b0"/><stop offset="0.4" stop-color="#a04c8a"/><stop offset="0.75" stop-color="#8e4884"/><stop offset="0.9" stop-color="#c4a0c8" stop-opacity="0.8"/><stop offset="1" stop-color="#f0e4f0" stop-opacity="0"/></radialGradient>
<radialGradient id="bg1" cx="0.5" cy="0.5" r="0.6">
<stop offset="0" stop-color="#fcf5d8"/><stop offset="1" stop-color="#fefcf1"/></radialGradient>
<marker id="ar" viewBox="0 0 6 6" refX="4.6" refY="3" markerWidth="3.4" markerHeight="3.4" markerUnits="strokeWidth" orient="auto"><path d="M0.6 0.4L5 3L0.6 5.6" fill="none" stroke="#e02828" stroke-width="1.3"/></marker>
</defs>
<rect x="49" y="203" width="57.5" height="43.5" fill="#fefdf4"/>
<rect x="108" y="203" width="57" height="43.5" fill="url(#bg1)"/>
<rect x="56" y="248" width="51.5" height="40.5" fill="#fefefa"/>
<rect x="111" y="247.5" width="54" height="39.5" fill="#fefbfb"/>
<rect x="51.3" y="290.3" width="54.7" height="40.4" fill="#fbfcf0"/>
<rect x="110.3" y="289" width="53" height="40" fill="#fdfdf6"/>
<rect x="52.3" y="336.6" width="53.7" height="41.4" fill="#fbfcf0"/>
<rect x="106.3" y="336" width="58.3" height="42" fill="#fdfdf7"/>
<defs><clipPath id="k0"><rect x="49" y="203" width="57.5" height="43.5"/></clipPath><clipPath id="k1"><rect x="108" y="203" width="57" height="43.5"/></clipPath><clipPath id="k2"><rect x="56" y="248" width="51.5" height="40.5"/></clipPath><clipPath id="k3"><rect x="111" y="247.5" width="54" height="39.5"/></clipPath><clipPath id="k4"><rect x="51.3" y="290.3" width="54.7" height="40.4"/></clipPath><clipPath id="k5"><rect x="110.3" y="289" width="53" height="40"/></clipPath><clipPath id="k6"><rect x="52.3" y="336.6" width="53.7" height="41.4"/></clipPath><clipPath id="k7"><rect x="106.3" y="336" width="58.3" height="42"/></clipPath></defs>
<g clip-path="url(#k0)">
<circle cx="65" cy="206.5" r="2.0" fill="url(#c20)"/>
<circle cx="72.5" cy="206.5" r="2.0" fill="url(#c20)"/>
<circle cx="79.4" cy="211" r="2.0" fill="url(#c20)"/>
<circle cx="81.9" cy="212.5" r="2.0" fill="url(#c20)"/>
<circle cx="87.7" cy="211" r="2.0" fill="url(#c20)"/>
<circle cx="93.9" cy="212" r="2.0" fill="url(#c20)"/>
<circle cx="98" cy="212" r="2.0" fill="url(#c20)"/>
<circle cx="78.7" cy="219.3" r="2.0" fill="url(#c20)"/>
<circle cx="84.3" cy="218" r="2.0" fill="url(#c20)"/>
<circle cx="87" cy="219.3" r="2.0" fill="url(#c20)"/>
<circle cx="91.8" cy="218.9" r="2.0" fill="url(#c20)"/>
<circle cx="66.3" cy="227.6" r="2.0" fill="url(#c20)"/>
<circle cx="67.7" cy="230.4" r="2.0" fill="url(#c20)"/>
<circle cx="70.5" cy="230.4" r="2.0" fill="url(#c20)"/>
<circle cx="87.7" cy="235.9" r="2.2" fill="url(#c20)"/>
</g>
<g clip-path="url(#k0)">
<circle cx="72.5" cy="210.7" r="1.9" fill="url(#c20g)"/>
<circle cx="84.3" cy="208.3" r="1.9" fill="url(#c20g)"/>
<circle cx="62.9" cy="216.6" r="1.9" fill="url(#c20g)"/>
<circle cx="56.7" cy="235.9" r="1.9" fill="url(#c20g)"/>
<circle cx="93.2" cy="240.7" r="1.7" fill="url(#c20g)"/>
<circle cx="61.5" cy="242.8" r="1.4" fill="url(#c20g)"/>
</g>
<g clip-path="url(#k1)">
<circle cx="129.0" cy="213.0" r="7.2" fill="url(#halo)"/>
<circle cx="121.6" cy="226.6" r="6.1" fill="url(#halo)"/>
<circle cx="145.8" cy="220.2" r="6.9" fill="url(#halo)"/>
<circle cx="139.8" cy="232.8" r="6.7" fill="url(#halo)"/>
</g>
<g clip-path="url(#k1)">
<circle cx="130.5" cy="214.5" r="7.2" fill="url(#c63)"/>
<circle cx="122.6" cy="225.5" r="6.3" fill="url(#c63)"/>
<circle cx="144.3" cy="220.0" r="7.0" fill="url(#c63)"/>
<circle cx="138.7" cy="231.7" r="7.0" fill="url(#c63)"/>
</g>
<g clip-path="url(#k2)">
<circle cx="78.4" cy="251.2" r="2.2" fill="url(#c20b)"/>
<circle cx="76.1" cy="254.1" r="2.2" fill="url(#c20b)"/>
<circle cx="72.6" cy="255.9" r="2.2" fill="url(#c20b)"/>
<circle cx="74.9" cy="259.4" r="2.2" fill="url(#c20b)"/>
<circle cx="81.3" cy="262.9" r="2.2" fill="url(#c20b)"/>
<circle cx="75.5" cy="264.6" r="2.2" fill="url(#c20b)"/>
<circle cx="74.9" cy="268.1" r="2.2" fill="url(#c20b)"/>
<circle cx="75.5" cy="272.2" r="2.2" fill="url(#c20b)"/>
<circle cx="70.3" cy="270.4" r="2.2" fill="url(#c20b)"/>
<circle cx="69.7" cy="274.5" r="2.2" fill="url(#c20b)"/>
<circle cx="71.4" cy="276.2" r="2.2" fill="url(#c20b)"/>
<circle cx="72.6" cy="278.6" r="2.2" fill="url(#c20b)"/>
<circle cx="80.2" cy="276.8" r="2.2" fill="url(#c20b)"/>
<circle cx="79" cy="280.3" r="2.2" fill="url(#c20b)"/>
<circle cx="76.7" cy="285" r="2.2" fill="url(#c20b)"/>
<circle cx="74.3" cy="285.5" r="2.2" fill="url(#c20b)"/>
<circle cx="79" cy="285.5" r="2.2" fill="url(#c20b)"/>
<circle cx="59.8" cy="276.8" r="2.2" fill="url(#c20b)"/>
<circle cx="59.2" cy="280.3" r="2.2" fill="url(#c20b)"/>
<circle cx="59.8" cy="283.2" r="2.2" fill="url(#c20b)"/>
<circle cx="60.4" cy="286.1" r="2.2" fill="url(#c20b)"/>
<circle cx="83" cy="273.9" r="2.2" fill="url(#c20b)"/>
<circle cx="98" cy="250.9" r="2.2" fill="url(#c20b)"/>
<circle cx="103.3" cy="249.7" r="2.2" fill="url(#c20b)"/>
<circle cx="106.7" cy="250.7" r="2.2" fill="url(#c20b)"/>
<circle cx="81.7" cy="263.4" r="2.2" fill="url(#c20b)"/>
<circle cx="84.7" cy="260.5" r="2.2" fill="url(#c20b)"/>
<circle cx="86.4" cy="257.6" r="2.2" fill="url(#c20b)"/>
<circle cx="89.3" cy="254.7" r="2.2" fill="url(#c20b)"/>
<circle cx="92.8" cy="254.7" r="2.2" fill="url(#c20b)"/>
<circle cx="94.5" cy="253.6" r="2.2" fill="url(#c20b)"/>
<circle cx="85.2" cy="254.7" r="2.2" fill="url(#c20b)"/>
<circle cx="103.8" cy="257.6" r="2.2" fill="url(#c20b)"/>
<circle cx="102.7" cy="261.1" r="2.2" fill="url(#c20b)"/>
<circle cx="106.2" cy="262.3" r="2.2" fill="url(#c20b)"/>
<circle cx="97.4" cy="266.3" r="2.2" fill="url(#c20b)"/>
<circle cx="100.9" cy="265.8" r="2.2" fill="url(#c20b)"/>
<circle cx="103.8" cy="266.3" r="2.2" fill="url(#c20b)"/>
<circle cx="106.2" cy="267.5" r="2.2" fill="url(#c20b)"/>
<circle cx="99.2" cy="269.3" r="2.2" fill="url(#c20b)"/>
<circle cx="106.7" cy="275.1" r="1.2" fill="url(#c20b)"/>
<circle cx="92.8" cy="266.9" r="2.2" fill="url(#c20b)"/>
<circle cx="89.3" cy="269.3" r="2.2" fill="url(#c20b)"/>
<circle cx="87" cy="271" r="2.2" fill="url(#c20b)"/>
<circle cx="83.5" cy="272.7" r="2.2" fill="url(#c20b)"/>
<circle cx="87" cy="274.5" r="2.2" fill="url(#c20b)"/>
<circle cx="90.5" cy="276.2" r="2.2" fill="url(#c20b)"/>
<circle cx="93.4" cy="278" r="2.2" fill="url(#c20b)"/>
<circle cx="96.9" cy="277.4" r="2.2" fill="url(#c20b)"/>
<circle cx="98.6" cy="280.3" r="2.2" fill="url(#c20b)"/>
<circle cx="102.1" cy="282.6" r="2.2" fill="url(#c20b)"/>
<circle cx="100.9" cy="286.1" r="2.2" fill="url(#c20b)"/>
<circle cx="95.1" cy="279.7" r="2.2" fill="url(#c20b)"/>
<circle cx="80.6" cy="277.4" r="2.2" fill="url(#c20b)"/>
<circle cx="81.2" cy="280.9" r="2.2" fill="url(#c20b)"/>
<circle cx="80.6" cy="285" r="2.2" fill="url(#c20b)"/>
</g>
<ellipse cx="69.7" cy="249.5" rx="2.6" ry="0.9" fill="#5a4870"/>
<g clip-path="url(#k3)">
<circle cx="119.8" cy="252.9" r="5.8" fill="url(#c63l)"/>
<circle cx="125.9" cy="264.8" r="5.0" fill="url(#c63l)"/>
<circle cx="130.6" cy="273.1" r="5.2" fill="url(#c63l)"/>
<circle cx="160.6" cy="253.7" r="5.4" fill="url(#c63l)"/>
<circle cx="113.4" cy="281" r="4.0" fill="url(#c63l)"/>
<circle cx="141.7" cy="287.5" r="4.6" fill="url(#c63l)"/>
</g>
<g clip-path="url(#k3)">
<circle cx="135.9" cy="263" r="6.6" fill="url(#c63p)"/>
<circle cx="150.9" cy="261.6" r="7.4" fill="url(#c63p)"/>
<circle cx="151.9" cy="273.6" r="6.4" fill="url(#c63p)"/>
</g>
<path d="M126.2 251.2L131.6 255.8" stroke="#e02828" stroke-width="1.0" marker-end="url(#ar)"/>
<path d="M140.5 251.2L145.9 256.2" stroke="#e02828" stroke-width="1.0" marker-end="url(#ar)"/>
<path d="M115.6 273.8L121.6 268.2" stroke="#e02828" stroke-width="1.0" marker-end="url(#ar)"/>
<path d="M164.2 265.0L159.2 269.6" stroke="#e02828" stroke-width="1.0" marker-end="url(#ar)"/>
<g clip-path="url(#k4)">
<circle cx="68.2" cy="294.3" r="2.1" fill="url(#c20d)"/>
<circle cx="74.4" cy="296.9" r="2.1" fill="url(#c20d)"/>
<circle cx="75.2" cy="300.9" r="2.1" fill="url(#c20d)"/>
<circle cx="72.2" cy="304.2" r="2.1" fill="url(#c20d)"/>
<circle cx="76.5" cy="305.1" r="2.1" fill="url(#c20d)"/>
<circle cx="81.4" cy="305.5" r="2.1" fill="url(#c20d)"/>
<circle cx="80.8" cy="308.8" r="2.1" fill="url(#c20d)"/>
<circle cx="53.6" cy="308.6" r="2.1" fill="url(#c20d)"/>
<circle cx="71.5" cy="310.8" r="2.1" fill="url(#c20d)"/>
<circle cx="72.2" cy="314.4" r="2.1" fill="url(#c20d)"/>
<circle cx="78.8" cy="310.8" r="2.1" fill="url(#c20d)"/>
<circle cx="82.7" cy="312.8" r="2.1" fill="url(#c20d)"/>
<circle cx="96" cy="310.2" r="2.1" fill="url(#c20d)"/>
<circle cx="81.4" cy="316.8" r="2.1" fill="url(#c20d)"/>
<circle cx="84.7" cy="319.7" r="2.1" fill="url(#c20d)"/>
<circle cx="90.7" cy="319.7" r="2.5" fill="url(#c20d)"/>
<circle cx="75.2" cy="319.7" r="2.1" fill="url(#c20d)"/>
<circle cx="77" cy="321.8" r="2.1" fill="url(#c20d)"/>
<circle cx="95.3" cy="324.5" r="2.1" fill="url(#c20d)"/>
<circle cx="91.6" cy="328.7" r="2.1" fill="url(#c20d)"/>
</g>
<g clip-path="url(#k4)">
<circle cx="102" cy="316.8" r="2.2" fill="url(#c20)"/>
<circle cx="103.3" cy="308.8" r="1.8" fill="url(#c20)"/>
<circle cx="102" cy="293" r="1.8" fill="url(#c20)"/>
</g>
<g clip-path="url(#k5)">
<circle cx="133.6" cy="308.6" r="7.0" fill="url(#halo)"/>
<circle cx="143.6" cy="318.8" r="6.4" fill="url(#halo)"/>
</g>
<g clip-path="url(#k5)">
<circle cx="134.8" cy="309.5" r="6.8" fill="url(#c63)"/>
<circle cx="142.7" cy="318.1" r="6.2" fill="url(#c63)"/>
</g>
<g clip-path="url(#k6)">
<circle cx="53.6" cy="344.6" r="2.1" fill="url(#c20d)"/>
<circle cx="59.6" cy="344.2" r="2.1" fill="url(#c20d)"/>
<circle cx="90" cy="341.9" r="2.2" fill="url(#c20d)"/>
<circle cx="92.7" cy="342.3" r="2.1" fill="url(#c20d)"/>
<circle cx="96.4" cy="345" r="2.1" fill="url(#c20d)"/>
<circle cx="98.6" cy="348.9" r="2.1" fill="url(#c20d)"/>
<circle cx="103.9" cy="342.6" r="2.1" fill="url(#c20d)"/>
<circle cx="68.8" cy="354.2" r="2.1" fill="url(#c20d)"/>
<circle cx="79.2" cy="354.5" r="2.1" fill="url(#c20d)"/>
<circle cx="86" cy="351.2" r="2.1" fill="url(#c20d)"/>
<circle cx="73.5" cy="359.5" r="2.1" fill="url(#c20d)"/>
<circle cx="83.4" cy="358.7" r="2.1" fill="url(#c20d)"/>
<circle cx="86.3" cy="357.4" r="2.1" fill="url(#c20d)"/>
<circle cx="88.7" cy="360" r="2.1" fill="url(#c20d)"/>
<circle cx="85.4" cy="360.8" r="2.1" fill="url(#c20d)"/>
<circle cx="83.1" cy="363.8" r="2.1" fill="url(#c20d)"/>
<circle cx="72.2" cy="364.8" r="2.0" fill="url(#c20d)"/>
<circle cx="84.1" cy="367.5" r="2.0" fill="url(#c20d)"/>
</g>
<g clip-path="url(#k6)">
<circle cx="64.6" cy="352.9" r="1.8" fill="url(#c20)"/>
</g>
<g clip-path="url(#k7)">
<circle cx="123.6" cy="343.6" r="5.8" fill="url(#halo)"/>
<circle cx="138.5" cy="351.2" r="5.6" fill="url(#halo)"/>
<circle cx="140.8" cy="363.0" r="7.4" fill="url(#halo)"/>
<circle cx="155.0" cy="362.0" r="6.4" fill="url(#halo)"/>
</g>
<g clip-path="url(#k7)">
<circle cx="122.9" cy="343.2" r="5.4" fill="url(#c63l)"/>
</g>
<g clip-path="url(#k7)">
<circle cx="137.5" cy="350.5" r="5.0" fill="url(#c63r)"/>
<circle cx="140.1" cy="362.4" r="7.0" fill="url(#c63r)"/>
<circle cx="154.0" cy="361.8" r="6.0" fill="url(#c63r)"/>
</g>
</svg></body></html>
